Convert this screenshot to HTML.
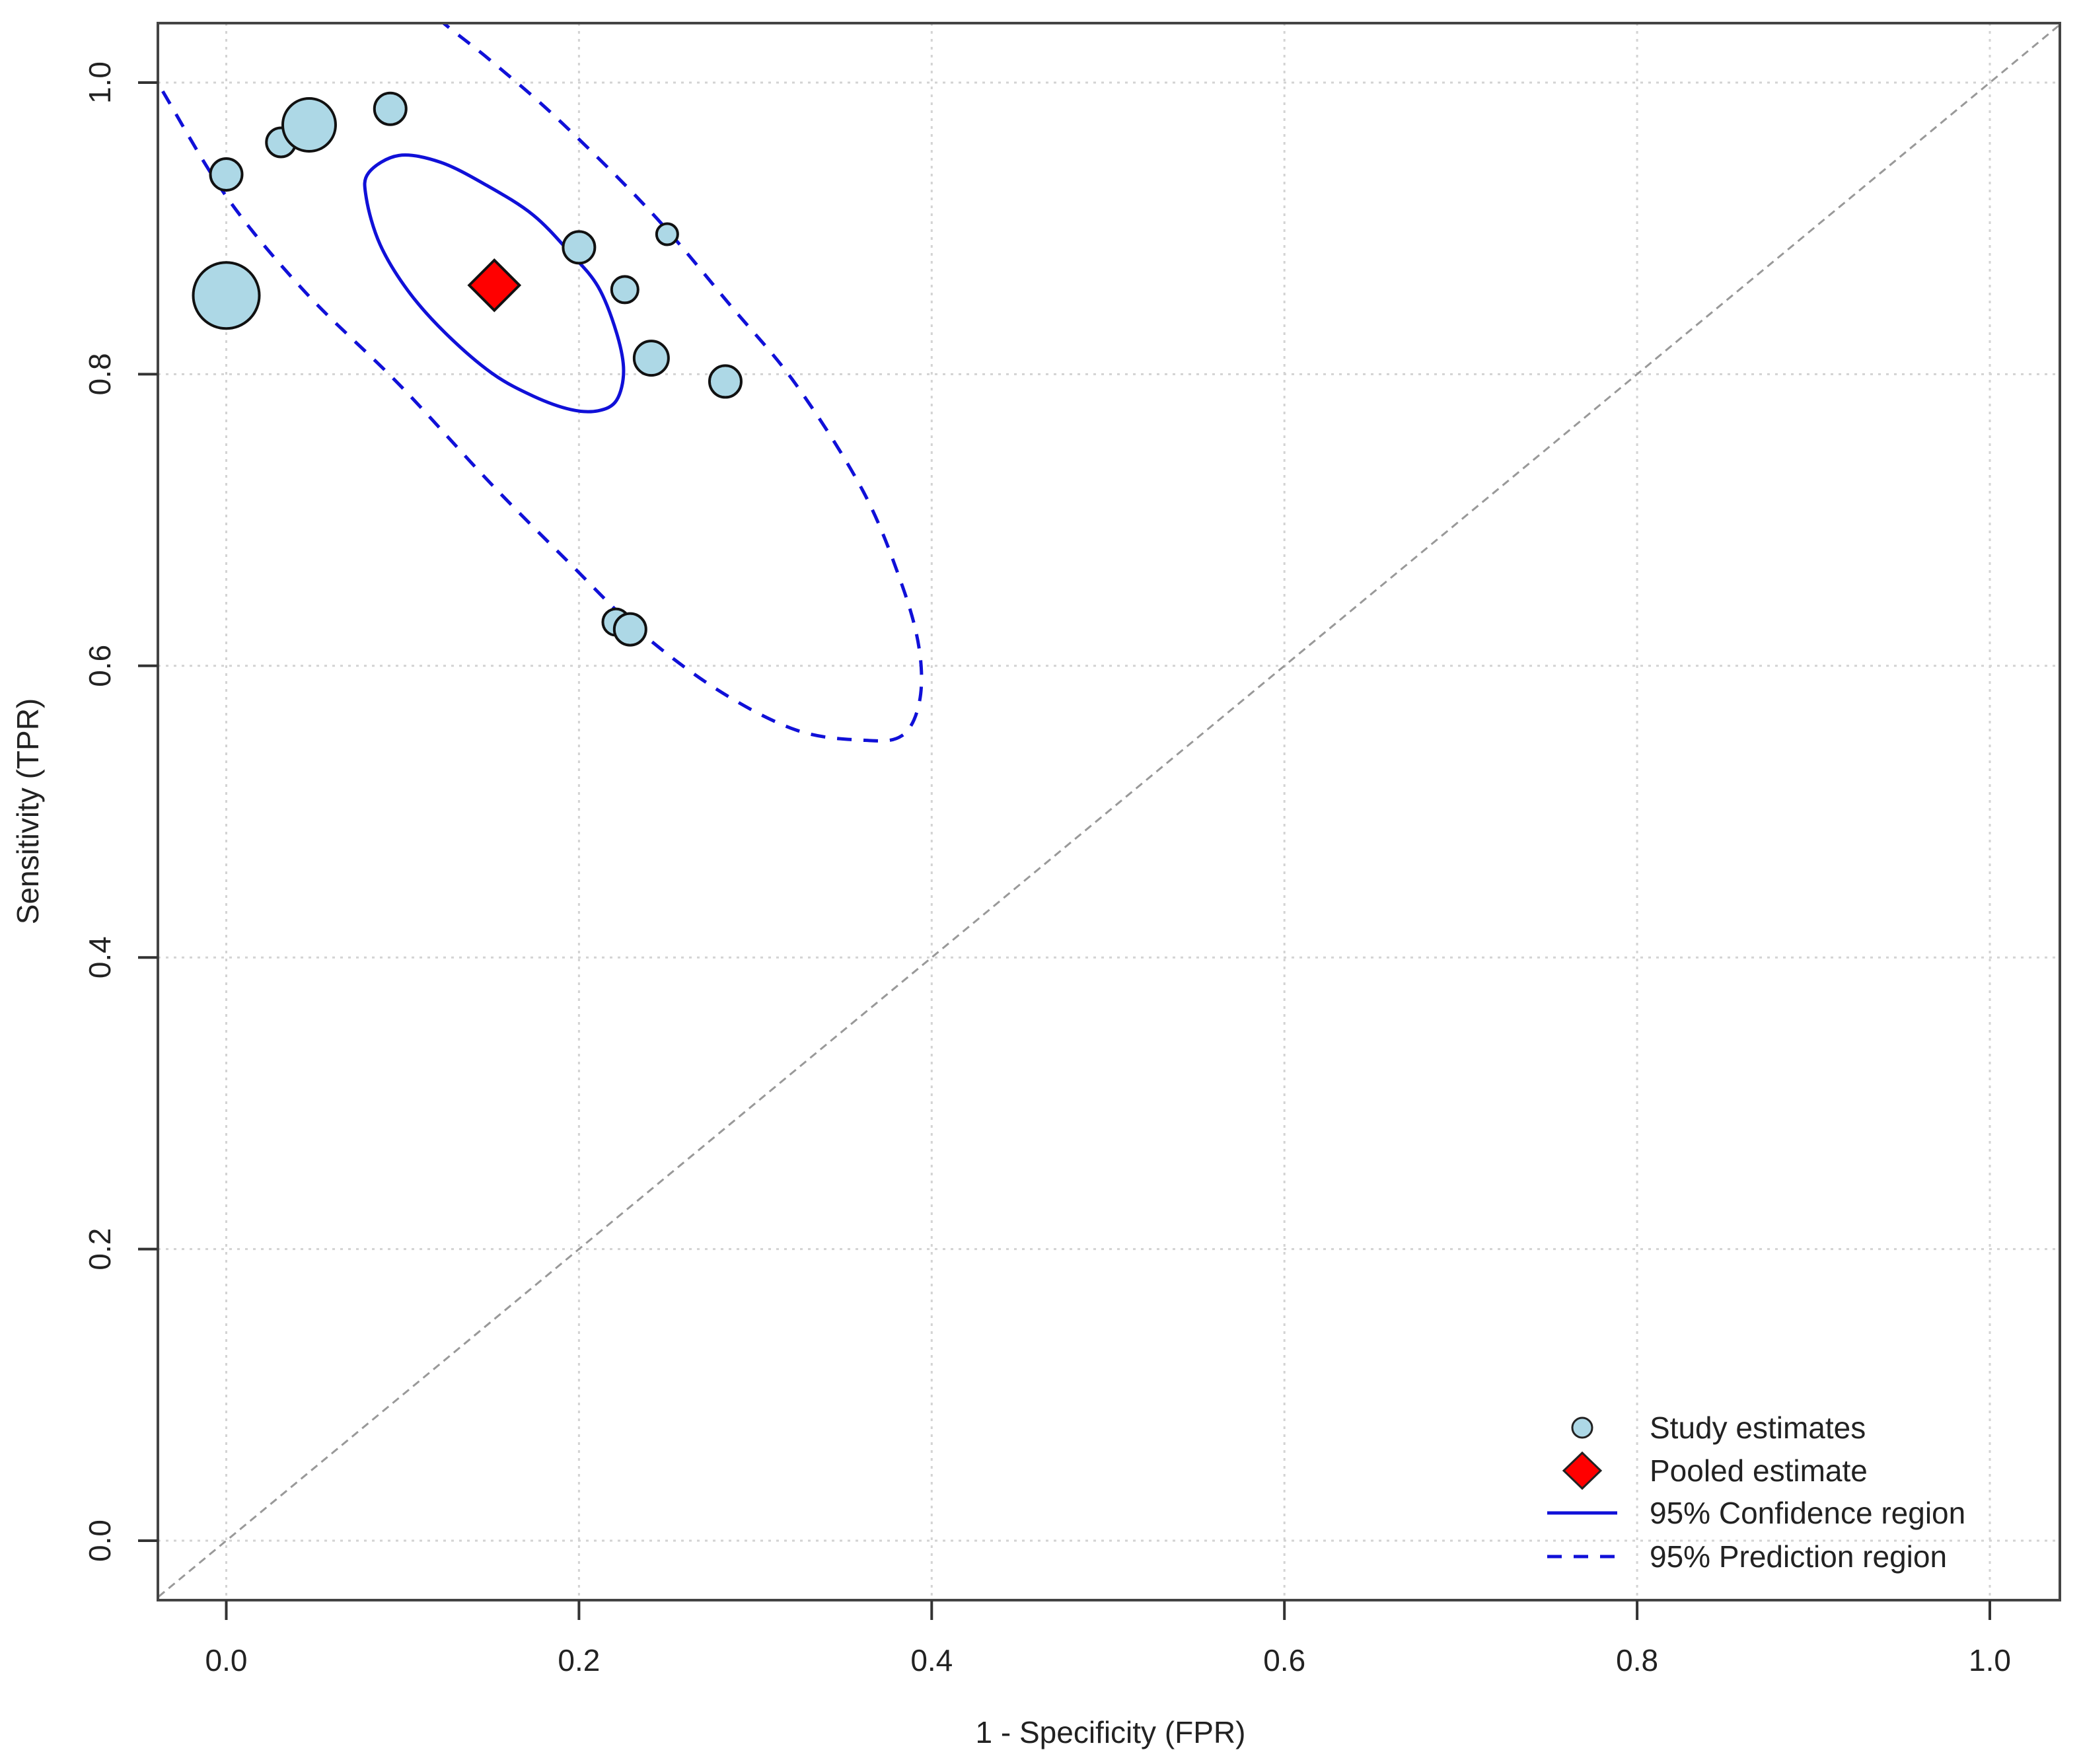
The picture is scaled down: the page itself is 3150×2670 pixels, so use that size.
<!DOCTYPE html>
<html><head><meta charset="utf-8"><style>
html,body{margin:0;padding:0;background:#fff;}
svg{display:block;font-family:"Liberation Sans",sans-serif;}
</style></head><body>
<svg id="chart" width="3150" height="2670" viewBox="0 0 3150 2670">
<defs><clipPath id="plotclip"><rect x="239" y="35" width="2879" height="2387"/></clipPath></defs>
<g id="grid"></g>
<g id="marks" clip-path="url(#plotclip)"></g>
<rect x="239" y="35" width="2879" height="2387" fill="none" stroke="#444" stroke-width="4"/>
<g id="axes"></g>
<text x="1681" y="2638" font-size="46" text-anchor="middle" fill="#222">1 - Specificity (FPR)</text>
<text x="58" y="1228" font-size="46" text-anchor="middle" fill="#222" transform="rotate(-90 58 1228)">Sensitivity (TPR)</text>
<g id="legend">
  <circle cx="2395" cy="2161" r="15" fill="#add8e6" stroke="#222" stroke-width="3"/>
  <text x="2497" y="2177" font-size="46" fill="#222">Study estimates</text>
  <polygon points="2395,2199 2423,2226 2395,2253 2367,2226" fill="#ff0000" stroke="#222" stroke-width="3"/>
  <text x="2497" y="2242" font-size="46" fill="#222">Pooled estimate</text>
  <line x1="2342" y1="2290" x2="2448" y2="2290" stroke="#1010d8" stroke-width="5"/>
  <text x="2497" y="2306" font-size="46" fill="#222">95% Confidence region</text>
  <line x1="2342" y1="2356" x2="2448" y2="2356" stroke="#1010d8" stroke-width="5" stroke-dasharray="22 18"/>
  <text x="2497" y="2372" font-size="46" fill="#222">95% Prediction region</text>
</g>
</svg>
<script>
const xTicks = [0, 0.2, 0.4, 0.6, 0.8, 1.0];
const yTicks = [0, 0.2, 0.4, 0.6, 0.8, 1.0];
const tickLabels = ["0.0", "0.2", "0.4", "0.6", "0.8", "1.0"];
const studyFPR = [0, 0.031, 0.047, 0.093, 0, 0.2, 0.25, 0.226, 0.241, 0.283, 0.221, 0.229];
const studyTPR = [0.937, 0.959, 0.971, 0.982, 0.854, 0.887, 0.896, 0.858, 0.811, 0.795, 0.630, 0.625];
const studyWeight = [12, 11, 20, 12, 25, 12, 8, 10, 13, 12, 10, 12];
const pooledFPR = [0.152];
const pooledTPR = [0.861];
const ciFPR = [0.0978,0.1214,0.1477,0.1740,0.1950,0.2108,0.2213,0.2253,0.2213,0.2108,0.1952,0.1740,0.1504,0.1241,0.1030,0.0872,0.0794,0.0807];
const ciTPR = [0.950,0.9454,0.9295,0.9092,0.8832,0.8601,0.8284,0.8024,0.7821,0.7749,0.7758,0.7850,0.8009,0.8284,0.8573,0.8890,0.9208,0.9381];
const prFPR = [-0.06,-0.039,0,0.045,0.098,0.150,0.195,0.233,0.278,0.323,0.361,0.383,0.393,0.393,0.383,0.361,0.323,0.286,0.241,0.188,0.150,0.123,0.09];
const prTPR = [1.04,1.0,0.922,0.856,0.793,0.725,0.670,0.625,0.584,0.556,0.549,0.552,0.575,0.611,0.656,0.72,0.793,0.847,0.911,0.975,1.015,1.041,1.075];

const NS = "http://www.w3.org/2000/svg";
const X = v => 342.5 + v * 2669.5;
const Y = v => 2332 - v * 2207;
function mk(tag, attrs, parent){ const e=document.createElementNS(NS,tag); for(const k in attrs) e.setAttribute(k,attrs[k]); parent.appendChild(e); return e; }
function smooth(pts, closed){
  const n=pts.length; const get=i=>closed?pts[(i+n)%n]:pts[Math.max(0,Math.min(n-1,i))];
  let d='M'+pts[0][0]+','+pts[0][1];
  const last=closed?n:n-1;
  for(let i=0;i<last;i++){
    const p0=get(i-1),p1=get(i),p2=get(i+1),p3=get(i+2);
    const c1=[p1[0]+(p2[0]-p0[0])/6,p1[1]+(p2[1]-p0[1])/6];
    const c2=[p2[0]-(p3[0]-p1[0])/6,p2[1]-(p3[1]-p1[1])/6];
    d+=` C${c1[0]},${c1[1]} ${c2[0]},${c2[1]} ${p2[0]},${p2[1]}`;
  }
  return d+(closed?'Z':'');
}
const grid=document.getElementById('grid'), marks=document.getElementById('marks'), axes=document.getElementById('axes');

xTicks.forEach((t,i)=>{
  const g=mk('line',{x1:X(t),y1:35,x2:X(t),y2:2422,stroke:'#d3d3d3','stroke-width':3,'stroke-dasharray':'4 8'},grid);
  
  
  const tk=mk('line',{x1:X(t),y1:2422,x2:X(t),y2:2452,stroke:'#333','stroke-width':4},axes);
  
  
  const lb=mk('text',{x:X(t),y:2529,'font-size':46,'text-anchor':'middle',fill:'#222'},axes);
  lb.textContent=tickLabels[i];
  
  
});
yTicks.forEach((t,i)=>{
  const g=mk('line',{x1:239,y1:Y(t),x2:3118,y2:Y(t),stroke:'#d3d3d3','stroke-width':3,'stroke-dasharray':'4 8'},grid);
  
  
  const tk=mk('line',{x1:209,y1:Y(t),x2:239,y2:Y(t),stroke:'#333','stroke-width':4},axes);
  
  
  const lb=mk('text',{x:167,y:Y(t),'font-size':46,'text-anchor':'middle',fill:'#222',transform:`rotate(-90 167 ${Y(t)})`},axes);
  lb.textContent=tickLabels[i];
  
  
});

const diag=mk('line',{x1:X(-0.05),y1:Y(-0.05),x2:X(1.05),y2:Y(1.05),stroke:'#999','stroke-width':3,'stroke-dasharray':'12 8'},marks);



const pr=mk('path',{d:smooth(prFPR.map((v,i)=>[X(v),Y(prTPR[i])]),false),fill:'none',stroke:'#1010d8','stroke-width':5,'stroke-dasharray':'22 18'},marks);



const ci=mk('path',{d:smooth(ciFPR.map((v,i)=>[X(v),Y(ciTPR[i])]),true),fill:'none',stroke:'#1010d8','stroke-width':5},marks);



studyFPR.forEach((v,i)=>{
  const c=mk('circle',{cx:X(v),cy:Y(studyTPR[i]),r:studyWeight[i]*2.0,fill:'#add8e6',stroke:'#111','stroke-width':4},marks);
  
  
});

pooledFPR.forEach((v,i)=>{
  const cx=X(v), cy=Y(pooledTPR[i]), s=38;
  const d=mk('polygon',{points:`${cx},${cy-s} ${cx+s},${cy} ${cx},${cy+s} ${cx-s},${cy}`,fill:'#ff0000',stroke:'#111','stroke-width':4},marks);
  
  
});
</script>
</body></html>
